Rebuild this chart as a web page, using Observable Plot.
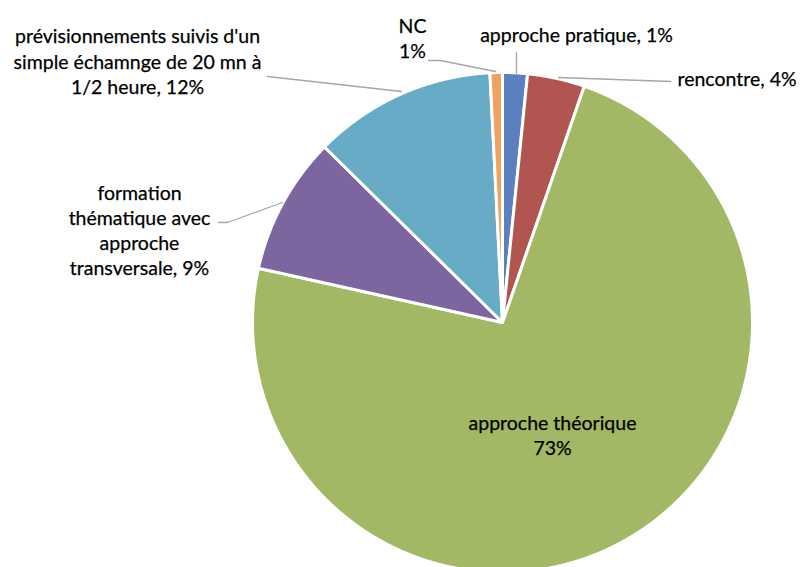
<!DOCTYPE html>
<html>
<head>
<meta charset="utf-8">
<script src="https://cdn.jsdelivr.net/npm/d3@7"></script>
<script src="https://cdn.jsdelivr.net/npm/@observablehq/plot@0.6"></script>
<style>
  html, body { margin: 0; padding: 0; background: #fff; }
  #chart { width: 800px; height: 567px; overflow: hidden; }
</style>
</head>
<body>
<div id="chart"></div>
<script>
// ---- data ----
const categories = [
  "approche pratique",
  "rencontre",
  "approche théorique",
  "formation thématique avec approche transversale",
  "prévisionnements suivis d'un simple échamnge de 20 mn à 1/2 heure",
  "NC"
];
const shares = [1.6, 3.7, 73.1, 8.9, 11.8, 0.8];
const labelTexts = [
  "approche pratique, 1%",
  "rencontre, 4%",
  "approche théorique\n73%",
  "formation\nthématique avec\napproche\ntransversale, 9%",
  "prévisionnements suivis d'un\nsimple échamnge de 20 mn à\n1/2 heure, 12%",
  "NC\n1%"
];
const colors = ["#5b80bf", "#b05550", "#a3b865", "#7d66a0", "#67abc6", "#f0a25e"];

// ---- layout (pixels) ----
const W = 800, H = 567, CX = 502, CY = 322, R = 250;
const labelLayout = [
  {x: 576, y: 33, anchor: "middle"},
  {x: 677, y: 77, anchor: "start"},
  {x: 552, y: 434, anchor: "middle"},
  {x: 139, y: 229, anchor: "middle"},
  {x: 137, y: 60, anchor: "middle"},
  {x: 412, y: 37, anchor: "middle"}
];
const leaders = [
  [[516, 52], [516, 73]],
  [[670, 81], [558, 77]],
  null,
  [[218, 222], [227, 222], [282, 202]],
  [[267, 76], [401, 91]],
  [[428, 60], [440, 60], [495, 71]]
];

const px2x = px => (px - CX) / R;
const py2y = py => (CY - py) / R;

// ---- build wedges ----
const pie = d3.pie().sort(null).value(d => d.value)(
  categories.map((c, i) => ({cat: c, value: shares[i], color: colors[i]}))
);
const wedgePts = [];
pie.forEach(p => {
  const c = p.data.cat;
  wedgePts.push({cat: c, x: 0, y: 0, color: p.data.color});
  const n = Math.max(2, Math.ceil((p.endAngle - p.startAngle) / 0.005));
  for (let k = 0; k <= n; k++) {
    const a = p.startAngle + (p.endAngle - p.startAngle) * k / n;
    wedgePts.push({cat: c, x: Math.sin(a), y: Math.cos(a), color: p.data.color});
  }
  wedgePts.push({cat: c, x: 0, y: 0, color: p.data.color});
});

const labels = labelTexts.map((t, i) => ({
  text: t, x: px2x(labelLayout[i].x), y: py2y(labelLayout[i].y), anchor: labelLayout[i].anchor
}));
const leaderPts = [];
leaders.forEach((l, i) => {
  if (!l) return;
  l.forEach(([px, py]) => leaderPts.push({id: i, x: px2x(px), y: py2y(py)}));
});

const textOpts = {
  text: "text", fontSize: 19.5, lineHeight: 1.29, fill: "#000",
  fontFamily: "Lato, 'Open Sans', sans-serif", stroke: "#000", strokeWidth: 0.25
};

const chart = Plot.plot({
  width: W, height: H,
  margin: 0,
  x: {domain: [px2x(0), px2x(W)], axis: null},
  y: {domain: [py2y(H), py2y(0)], axis: null},
  style: {background: "#fff"},
  marks: [
    Plot.line(wedgePts, {x: "x", y: "y", z: "cat", fill: "color", stroke: "#fff", strokeWidth: 3, strokeLinejoin: "round", curve: "linear"}),
    Plot.line(leaderPts, {x: "x", y: "y", z: "id", stroke: "#a6a6a6", strokeWidth: 1.3}),
    Plot.text(labels.filter(d => d.anchor === "middle"), {x: "x", y: "y", textAnchor: "middle", ...textOpts}),
    Plot.text(labels.filter(d => d.anchor === "start"), {x: "x", y: "y", textAnchor: "start", ...textOpts})
  ]
});
document.getElementById("chart").appendChild(chart);
</script>
</body>
</html>
